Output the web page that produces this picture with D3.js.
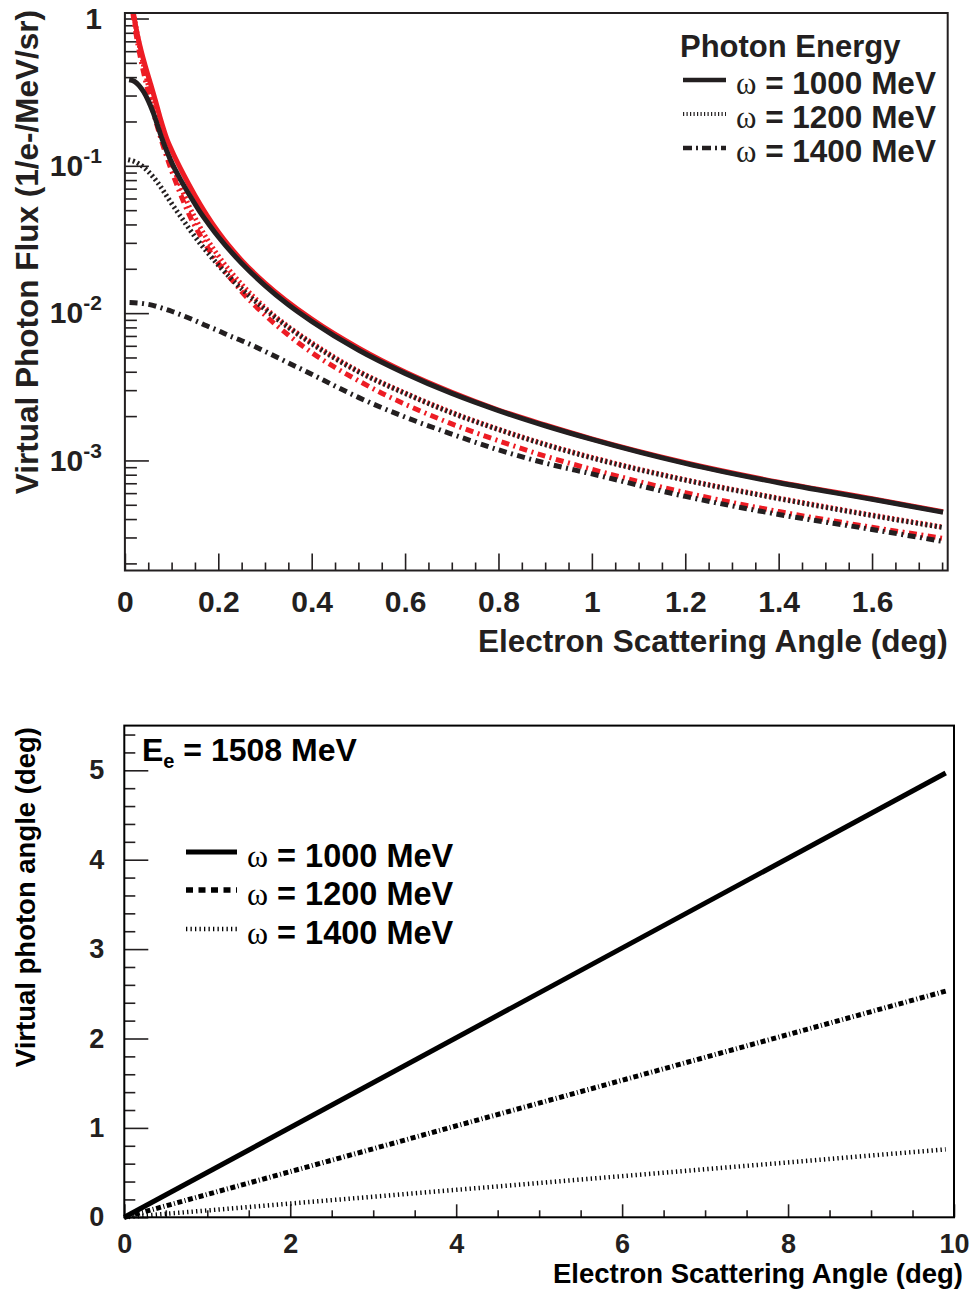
<!DOCTYPE html>
<html><head><meta charset="utf-8">
<script src="https://cdn.jsdelivr.net/npm/d3@7"></script>
<style>
body{margin:0;background:#fff}
svg{display:block}
</style></head>
<body><svg id="c" width="970" height="1292"></svg>
<script>
// ---------------- DATA (top chart: virtual photon flux) ----------------
const angSolidBlack  = [0.009,0.02,0.03,0.04,0.05,0.06,0.07,0.08,0.09,0.10,0.12,0.14,0.16,0.18,0.20,0.25,0.30,0.35,0.40,0.50,0.60,0.70,0.80,0.90,1.00,1.20,1.40,1.60,1.752];
const fluxSolidBlack = [0.384,0.375,0.352,0.318,0.277,0.232,0.188,0.151,0.125,0.1055,0.0797,0.0621,0.0491,0.0400,0.0330,0.0218,0.0154,0.0114,0.0088,0.00562,0.0039,0.00285,0.00218,0.00172,0.00139,0.000955,0.000705,0.000545,0.000445];

const angDotBlack  = [0.007,0.02,0.03,0.04,0.05,0.06,0.07,0.08,0.09,0.10,0.12,0.14,0.16,0.18,0.20,0.25,0.30,0.35,0.40,0.50,0.60,0.70,0.80,0.90,1.00,1.20,1.40,1.60,1.752];
const fluxDotBlack = [0.110,0.107,0.103,0.098,0.0915,0.0845,0.077,0.0695,0.062,0.0555,0.0450,0.0365,0.0300,0.0251,0.0212,0.0146,0.0106,0.0080,0.0062,0.0040,0.00285,0.0021,0.00162,0.00128,0.00104,0.000735,0.00055,0.000422,0.00035];

const angDashDotBlack  = [0.01,0.04,0.06,0.08,0.10,0.125,0.15,0.175,0.20,0.225,0.25,0.275,0.30,0.35,0.40,0.45,0.50,0.60,0.70,0.80,0.90,1.00,1.20,1.40,1.60,1.752];
const fluxDashDotBlack = [0.0118,0.0116,0.0113,0.0108,0.0103,0.0096,0.0089,0.0082,0.0076,0.0070,0.0065,0.0060,0.0055,0.0046,0.00385,0.0032,0.00268,0.00197,0.00151,0.00118,0.00096,0.00081,0.00057,0.00043,0.00034,0.000282];

const angSolidRed  = [0.012,0.0167,0.025,0.035,0.045,0.055,0.065,0.075,0.09,0.10,0.125,0.15,0.175,0.20,0.25,0.30,0.40,0.50,0.60,0.70,0.80,0.90,1.00,1.20,1.40,1.60,1.752];
const fluxSolidRed = [1.6,1.18,0.83,0.60,0.46,0.36,0.28,0.215,0.152,0.128,0.088,0.063,0.0465,0.0355,0.0228,0.0160,0.0091,0.0058,0.00398,0.0029,0.0022,0.00174,0.0014,0.000965,0.000712,0.00055,0.000449];

const angDotRed  = [0.012,0.018,0.024,0.03,0.037,0.045,0.053,0.061,0.07,0.08,0.09,0.10,0.118,0.136,0.157,0.175,0.20,0.25,0.30,0.35,0.40,0.50,0.60,0.70,0.80,0.90,1.00,1.20,1.40,1.60,1.752];
const fluxDotRed = [1.6,1.12,0.86,0.68,0.53,0.41,0.325,0.26,0.206,0.162,0.130,0.1055,0.0745,0.0545,0.0405,0.0322,0.0245,0.0157,0.0109,0.0081,0.0063,0.00404,0.00287,0.00212,0.00163,0.00129,0.00105,0.00074,0.000555,0.000426,0.000353];

const angDashDotRed  = [0.012,0.018,0.024,0.03,0.037,0.045,0.053,0.061,0.07,0.08,0.09,0.10,0.118,0.136,0.157,0.175,0.20,0.232,0.25,0.30,0.35,0.40,0.45,0.50,0.557,0.60,0.70,0.80,0.90,1.00,1.20,1.40,1.60,1.752];
const fluxDashDotRed = [1.49,1.036,0.782,0.614,0.477,0.368,0.29,0.231,0.1825,0.143,0.1143,0.0925,0.0655,0.0478,0.0356,0.0285,0.0218,0.0164,0.0140,0.0097,0.0071,0.0054,0.00428,0.00348,0.00279,0.00241,0.00177,0.00136,0.00107,0.00087,0.000605,0.00045,0.000352,0.000296];

const topXTicks = [0,0.2,0.4,0.6,0.8,1,1.2,1.4,1.6];
const topYTicks = [1,0.1,0.01,0.001];
const topLegendTitle = "Photon Energy";
const photonEnergies = ["1000","1200","1400"];

// ---------------- DATA (bottom chart: virtual photon angle) ----------------
const electronAngle = [0, 9.9];
const photonAngle1000 = [0, 4.97];
const photonAngle1200 = [0, 2.53];
const photonAngle1400 = [0, 0.76];
const botXTicks = [0,2,4,6,8,10];
const botYTicks = [0,1,2,3,4,5];
const beamLabel = "1508 MeV";

// ---------------- DRAWING ----------------
const INK = "#231f20", RED = "#ed1c24";
const SANS = "'Liberation Sans', Arial, sans-serif";
const SERIF = "'Liberation Serif', 'Times New Roman', serif";
const svg = d3.select("#c");

function styleAxis(g, size){
  g.select(".domain").remove();
  g.attr("font-family", SANS).attr("font-size", size).attr("font-weight","bold");
  g.selectAll(".tick line").attr("stroke", INK).attr("stroke-width", 1.6);
  g.selectAll(".tick text").attr("fill", INK);
}

// ===== TOP CHART =====
const tL=124.9, tR=947.7, tT=13, tB=570.5;
const xT = d3.scaleLinear().domain([0,1.762]).range([tL,tR]);
const yT = d3.scaleLog().domain([1.79e-4,1.09]).range([tB,tT]);

svg.append("defs").append("clipPath").attr("id","clipTop")
  .append("rect").attr("x",tL).attr("y",tT).attr("width",tR-tL).attr("height",tB-tT);

const xMinor = d3.range(0,1.7601,0.05).filter(v=>Math.abs(v/0.2-Math.round(v/0.2))>1e-6);
svg.append("g").attr("transform",`translate(0,${tB})`)
  .call(d3.axisBottom(xT).tickValues(xMinor).tickSize(-8).tickFormat(""))
  .call(g=>styleAxis(g,30));
svg.append("g").attr("transform",`translate(0,${tB})`)
  .call(d3.axisBottom(xT).tickValues(topXTicks).tickSize(-17).tickPadding(20).tickFormat(d=>d3.format("~g")(d)))
  .call(g=>styleAxis(g,30));

const yMinor = [];
for(let e=-4;e<=0;e++) for(let m=2;m<=9;m++){ const v=m*Math.pow(10,e); if(v>=1.79e-4 && v<=1.09) yMinor.push(v); }
svg.append("g").attr("transform",`translate(${tL},0)`)
  .call(d3.axisLeft(yT).tickValues(yMinor).tickSize(-12).tickFormat(""))
  .call(g=>styleAxis(g,30));
svg.append("g").attr("transform",`translate(${tL},0)`)
  .call(d3.axisLeft(yT).tickValues(topYTicks).tickSize(-24).tickPadding(23).tickFormat(""))
  .call(g=>styleAxis(g,30))
  .call(g=>g.selectAll(".tick text").each(function(d){
    const t=d3.select(this); const e=Math.round(Math.log10(d));
    if(e===0){ t.text("1"); }
    else { t.append("tspan").text("10"); t.append("tspan").attr("dy",-13).attr("font-size",21).text(String(e)); }
  }));

const lineT = d3.line().x(d=>xT(d[0])).y(d=>yT(d[1])).curve(d3.curveMonotoneX);
const plotT = svg.append("g").attr("clip-path","url(#clipTop)");
const topSeries = [
  {a:angSolidRed, f:fluxSolidRed, c:RED, dash:null},
  {a:angDotRed, f:fluxDotRed, c:RED, dash:"2,2.8"},
  {a:angDashDotRed, f:fluxDashDotRed, c:RED, dash:"8,4.5,2,4.5"},
  {a:angDashDotBlack, f:fluxDashDotBlack, c:INK, dash:"8,4.5,2,4.5"},
  {a:angDotBlack, f:fluxDotBlack, c:INK, dash:"2,2.8"},
  {a:angSolidBlack, f:fluxSolidBlack, c:INK, dash:null},
];
topSeries.forEach(s=>{
  plotT.append("path").datum(s.a.map((v,i)=>[v,s.f[i]]))
    .attr("d",lineT).attr("fill","none").attr("stroke",s.c).attr("stroke-width",5)
    .attr("stroke-dasharray",s.dash);
});

svg.append("rect").attr("x",tL).attr("y",tT).attr("width",tR-tL).attr("height",tB-tT)
  .attr("fill","none").attr("stroke",INK).attr("stroke-width",2);

svg.append("text").attr("x",tR).attr("y",652).attr("text-anchor","end")
  .attr("font-family",SANS).attr("font-weight","bold").attr("font-size",31.5).attr("fill",INK)
  .text("Electron Scattering Angle (deg)");
svg.append("text").attr("transform","translate(38,10) rotate(-90)").attr("text-anchor","end")
  .attr("font-family",SANS).attr("font-weight","bold").attr("font-size",31.5).attr("fill",INK)
  .text("Virtual Photon Flux (1/e-/MeV/sr)");

svg.append("text").attr("x",680).attr("y",57)
  .attr("font-family",SANS).attr("font-weight","bold").attr("font-size",31).attr("fill",INK)
  .text(topLegendTitle);
const topLegDash = [null,"1.2,2.3","9,4,2,4"];
const topLegW = [4.5,4,4.5];
photonEnergies.forEach((e,i)=>{
  const by = 94 + i*34;
  svg.append("line").attr("x1",683).attr("x2",726).attr("y1",by-14).attr("y2",by-14)
    .attr("stroke",INK).attr("stroke-width",topLegW[i]).attr("stroke-dasharray",topLegDash[i]);
  const t = svg.append("text").attr("x",736).attr("y",by).attr("fill",INK);
  t.append("tspan").attr("font-family",SERIF).attr("font-size",31).text("ω");
  t.append("tspan").attr("font-family",SANS).attr("font-weight","bold").attr("font-size",31.5).text(" = "+e+" MeV");
});

// ===== BOTTOM CHART =====
const bL=124.3, bR=954, bT=725.6, bB=1217.3;
const xB = d3.scaleLinear().domain([0,10]).range([bL,bR]);
const yB = d3.scaleLinear().domain([0,5.5]).range([bB,bT]);

const bxMinor = d3.range(0,10.001,0.5).filter(v=>v%2!==0);
svg.append("g").attr("transform",`translate(0,${bB})`)
  .call(d3.axisBottom(xB).tickValues(bxMinor).tickSize(-7).tickFormat(""))
  .call(g=>styleAxis(g,27));
svg.append("g").attr("transform",`translate(0,${bB})`)
  .call(d3.axisBottom(xB).tickValues(botXTicks).tickSize(-13).tickPadding(16.5).tickFormat(d3.format("d")))
  .call(g=>styleAxis(g,27));
const byMinor = d3.range(0,5.5001,0.2).map(v=>+v.toFixed(1)).filter(v=>Math.abs(v-Math.round(v))>1e-6);
svg.append("g").attr("transform",`translate(${bL},0)`)
  .call(d3.axisLeft(yB).tickValues(byMinor).tickSize(-11).tickFormat(""))
  .call(g=>styleAxis(g,27));
svg.append("g").attr("transform",`translate(${bL},0)`)
  .call(d3.axisLeft(yB).tickValues(botYTicks).tickSize(-24).tickPadding(20).tickFormat(d3.format("d")))
  .call(g=>styleAxis(g,27));

const lineB = d3.line().x(d=>xB(d[0])).y(d=>yB(d[1]));
const botSeries = [
  {p:photonAngle1400, dash:"1.3,3.2", w:4.5},
  {p:photonAngle1200, dash:"5,2.5,1,2.5", w:5},
  {p:photonAngle1000, dash:null, w:5},
];
botSeries.forEach(s=>{
  svg.append("path").datum(electronAngle.map((v,i)=>[v,s.p[i]]))
    .attr("d",lineB).attr("fill","none").attr("stroke","#000").attr("stroke-width",s.w)
    .attr("stroke-dasharray",s.dash);
});

svg.append("rect").attr("x",bL).attr("y",bT).attr("width",bR-bL).attr("height",bB-bT)
  .attr("fill","none").attr("stroke","#000").attr("stroke-width",2);

svg.append("text").attr("x",963).attr("y",1283).attr("text-anchor","end")
  .attr("font-family",SANS).attr("font-weight","bold").attr("font-size",27.5).attr("fill","#000")
  .text("Electron Scattering Angle (deg)");
svg.append("text").attr("transform","translate(35,727) rotate(-90)").attr("text-anchor","end")
  .attr("font-family",SANS).attr("font-weight","bold").attr("font-size",27.5).attr("fill","#000")
  .text("Virtual photon angle (deg)");

const eb = svg.append("text").attr("x",142).attr("y",761)
  .attr("font-family",SANS).attr("font-weight","bold").attr("font-size",32).attr("fill","#000");
eb.append("tspan").text("E");
eb.append("tspan").attr("font-size",20).attr("dy",7).text("e");
eb.append("tspan").attr("dy",-7).text(" = "+beamLabel);

const botLegDash = [null,"7,5.5","1.3,3.2"];
const botLegW = [5,5.5,4.5];
photonEnergies.forEach((e,i)=>{
  const by = [867,905,944][i];
  svg.append("line").attr("x1",186).attr("x2",237).attr("y1",by-15).attr("y2",by-15)
    .attr("stroke","#000").attr("stroke-width",botLegW[i]).attr("stroke-dasharray",botLegDash[i]);
  const t = svg.append("text").attr("x",247).attr("y",by).attr("fill","#000");
  t.append("tspan").attr("font-family",SERIF).attr("font-size",32).text("ω");
  t.append("tspan").attr("font-family",SANS).attr("font-weight","bold").attr("font-size",32.5).text(" = "+e+" MeV");
});
</script>
</body></html>
